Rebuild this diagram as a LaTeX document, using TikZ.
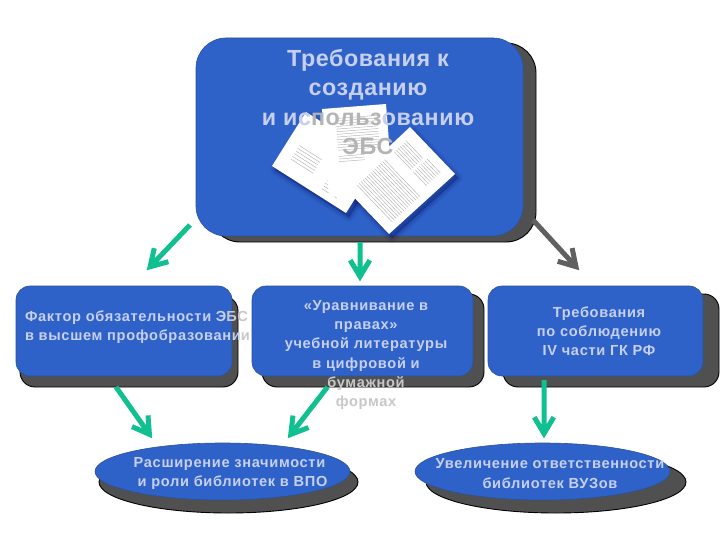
\documentclass[tikz,border=0pt]{standalone}
\usepackage{fontspec}
\setmainfont{Liberation Sans}
\newfontfamily\lblfont[LetterSpace=4.6]{Liberation Sans Bold}
\newfontfamily\ttlfont[LetterSpace=2.5]{Liberation Sans Bold}
\usetikzlibrary{arrows.meta,calc,shapes.geometric}
\definecolor{boxblue}{HTML}{2F62C9}
\definecolor{boxedge}{HTML}{2C5396}
\definecolor{shadowgray}{HTML}{505050}
\definecolor{pale}{HTML}{C6D0EE}
\definecolor{offgray}{HTML}{C8C8C8}
\definecolor{ongray}{HTML}{B4B4B4}
\definecolor{arrowgreen}{HTML}{10C090}
\definecolor{arrowgray}{HTML}{606060}
\tikzset{
  x=1pt,y=-1pt,
  panel/.style={draw=boxedge,line width=.6pt,fill=boxblue,inner sep=0,outer sep=0},
  panelshadow/.style={draw=black,line width=.9pt,fill=shadowgray,inner sep=0,outer sep=0},
  roundbox/.style={rectangle,rounded corners=#1},
  oval/.style={ellipse},
  lbl/.style={inner sep=0,outer sep=0,text=pale,align=center,font=\lblfont\fontsize{14.6}{19.2}\selectfont},
  ttl/.style={inner sep=0,outer sep=0,text=pale,align=center,font=\ttlfont\fontsize{23.3}{29.4}\selectfont},
  greenarrow/.style={draw=arrowgreen,line width=5pt,miter limit=12},
  grayarrow/.style={draw=arrowgray,line width=5pt,miter limit=12},
  sheet/.style={fill=white,draw=none},
  sheetglow/.style={fill=black!70!blue,draw=black!70!blue,opacity=.05,line join=round},
  ink/.style={draw=black!50,line width=.45pt,opacity=.6},
}
% rectangle node given left, top, right, bottom in pixels
\newcommand{\boxat}[7]{%
  \pgfmathsetmacro{\bw}{#5-#3}\pgfmathsetmacro{\bh}{#6-#4}%
  \node[#1,minimum width=\bw pt,minimum height=\bh pt,anchor=north west] (#2) at (#3,#4) {};}
\newcommand{\inklines}[5]{% a1 a2 b1 b2 step : lines along local x
  \foreach \v in {#3,#5,...,#4} {\draw[ink] (#1,\v) -- (#2,\v);}}
% connector with an open V head: style, start, named tip
\newcommand{\vconnect}[3]{%
  \draw[#1] (#2) -- ($(#3)!4pt!(#2)$)
    ($($(#3)!4.5pt!(#2)$)!19pt!31:(#2)$) -- ($(#3)!4.5pt!(#2)$) -- ($($(#3)!4.5pt!(#2)$)!19pt!-31:(#2)$);}
\begin{document}
\begin{tikzpicture}
\useasboundingbox (0,0) rectangle (720,540);
\fill[white] (0,0) rectangle (720,540);

% shadows
\boxat{panelshadow,roundbox=30pt}{mainshadow}{210}{43}{536}{242}{}
\boxat{panelshadow,roundbox=15pt}{leftshadow}{20}{296}{238}{387}{}
\boxat{panelshadow,roundbox=15pt}{midshadow}{262}{294}{484}{387}{}
\boxat{panelshadow,roundbox=15pt}{rightshadow}{503}{294}{719}{387}{}
\node[panelshadow,oval,minimum width=259pt,minimum height=62pt] (ovalAshadow) at (228.5,482) {};
\node[panelshadow,oval,minimum width=260pt,minimum height=62pt] (ovalBshadow) at (556,482) {};

% panels
\boxat{panel,roundbox=30pt}{main}{196}{38}{523}{236}{}
\boxat{panel,roundbox=14pt}{left}{16}{286}{232}{376}{}
\boxat{panel,roundbox=14pt}{mid}{252}{286}{473}{376}{}
\boxat{panel,roundbox=14pt}{right}{488}{286}{703}{376}{}
\node[panel,oval,minimum width=255pt,minimum height=57pt] (ovalA) at (222.5,471.5) {};
\node[panel,oval,minimum width=255pt,minimum height=57pt] (ovalB) at (542.5,471.5) {};

% sheets of paper
\foreach \g in {10,7,5,3,1}{
  \path[sheetglow,line width=\g pt,shift={(3,4)}] (272,166) -- (306,112) -- (380,159) -- (346,213) -- cycle;
  \path[sheetglow,line width=\g pt,shift={(3,4)}] (410,127) -- (455,174) -- (389,234) -- (345,188) -- cycle;
}
\path[sheet] (272,166) -- (306,112) -- (380,159) -- (346,213) -- cycle;
\begin{scope}[shift={(272,166)},x={(74pt,-47pt)},y={(34pt,54pt)}]
  \inklines{.14}{.44}{.25}{.55}{.30}
  \inklines{.62}{.82}{.12}{.38}{.17}
\end{scope}
\path[sheet] (322,109) -- (386,104) -- (393,192) -- (329,197) -- cycle;
\begin{scope}[shift={(322,109)},x={(64pt,5pt)},y={(7pt,-88pt)}]
  \inklines{.2}{.85}{.12}{.5}{.15}
  \inklines{.2}{.6}{.55}{.62}{.58}
\end{scope}
\path[sheet] (410,127) -- (455,174) -- (389,234) -- (345,188) -- cycle;
\begin{scope}[shift={(345,188)},x={(44pt,-46pt)},y={(65pt,61pt)}]
  \inklines{.1}{.9}{.12}{.55}{.15}
  \inklines{.12}{.5}{.68}{.88}{.71}
  \inklines{.55}{.85}{.68}{.9}{.71}
\end{scope}

% free ends of the connectors
\coordinate (tipA) at (147,270);
\coordinate (tipB) at (360,281);
\coordinate (tipC) at (579,270);
\coordinate (tipD) at (152,438);
\coordinate (tipE) at (288,438);
\coordinate (tipF) at (544,438);
\coordinate (fromA) at ([shift={(-6,-11)}]main.south west);
\coordinate (fromB) at ([shift={(.5,6)}]main.south);
\coordinate (fromC) at ([shift={(10,-16)}]main.south east);
\coordinate (fromD) at ([shift={(-8,11)}]left.south);
\coordinate (fromE) at ([shift={(-35,11)}]mid.south);
\coordinate (fromF) at ([shift={(-51.5,4)}]right.south);

% connectors
\vconnect{greenarrow}{fromA}{tipA}
\vconnect{greenarrow}{fromB}{tipB}
\vconnect{grayarrow}{fromC}{tipC}
\vconnect{greenarrow}{fromD}{tipD}
\vconnect{greenarrow}{fromE}{tipE}
\vconnect{greenarrow}{fromF}{tipF}

% texts
\node[ttl] (mainlabel) at (368,102) {Требования к\\[-.2pt]созданию\\и ис\textcolor{ongray}{польз}ованию\\\textcolor{ongray}{ЭБС}};
\node[lbl,align=left,anchor=west] (leftlabel) at (25,327.5) {Фактор обязательности Э\textcolor{offgray}{БС}\\в высшем профобразовани\textcolor{offgray}{и}};
\node[lbl] (midlabel) at (366,355) {«Уравнивание в\\правах»\\учебной литературы\\в цифровой и\\\textcolor{offgray}{бумажной}\\\textcolor{offgray}{формах}};
\node[lbl] (rightlabel) at (599,331) {Требования\\по соблюдению\\IV части ГК РФ};
\node[lbl] (ovalAlabel) at (229.5,473.5) {Расширение значимости\\\hspace{6pt}и роли библиотек в ВПО};
\node[lbl] (ovalBlabel) at (550,473.5) {Увеличение ответственности\\библиотек ВУЗов};
\end{tikzpicture}
\end{document}
